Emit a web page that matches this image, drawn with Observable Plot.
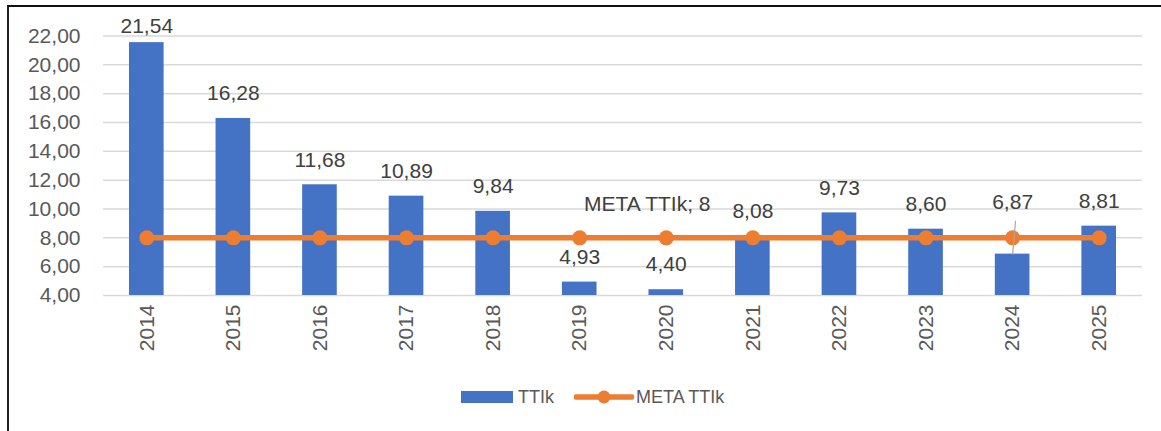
<!DOCTYPE html>
<html>
<head>
<meta charset="utf-8">
<script src="https://cdn.jsdelivr.net/npm/d3@7"></script>
<script src="https://cdn.jsdelivr.net/npm/@observablehq/plot@0.6"></script>
<style>
  html, body { margin: 0; padding: 0; background: #fff; }
  body { width: 1161px; height: 431px; position: relative; overflow: hidden; font-family: "Liberation Sans", Arial, sans-serif; }
  #frame { position: absolute; left: 7px; top: 5px; width: 1160px; height: 440px; border-top: 2px solid #111; border-left: 2px solid #222; }
  #chart { position: absolute; left: 0; top: 0; }
  #legend { position: absolute; left: 0; top: 385px; width: 1161px; height: 24px; }
  .lg { position: absolute; top: 0; font-size: 18px; line-height: 24px; color: #595959; }
</style>
</head>
<body>
<div id="frame"></div>
<div id="chart"></div>
<div id="legend"></div>
<script>
// ---- data ----
const years = ["2014","2015","2016","2017","2018","2019","2020","2021","2022","2023","2024","2025"];
const ttik = [21.54, 16.28, 11.68, 10.89, 9.84, 4.93, 4.40, 8.08, 9.73, 8.60, 6.87, 8.81];
const meta = [8, 8, 8, 8, 8, 8, 8, 8, 8, 8, 8, 8];
const yTicks = [4, 6, 8, 10, 12, 14, 16, 18, 20, 22];
const seriesBar = "TTIk";
const seriesLine = "META TTIk";
const metaLabelYear = "2020";

const yMin = yTicks[0], yMax = yTicks[yTicks.length - 1];
const data = years.map((y, i) => ({year: y, value: ttik[i], meta: meta[i]}));
const fmt = d => d.toFixed(2).replace(".", ",");

const blue = "#4472C4", orange = "#ED7D31";

// labels: most sit 25px above bar; first is squeezed, 2024 is lifted with a leader
const normal = data.filter(d => d.year !== "2014" && d.year !== "2024");
const first = data.filter(d => d.year === "2014");
const lifted = data.filter(d => d.year === "2024");
const metaLabel = data.filter(d => d.year === metaLabelYear);

const leaderShape = {
  draw(context, l) { context.moveTo(0, 0); context.lineTo(0, -l); }
};

const FS = 21;
const chart = Plot.plot({
  width: 1161,
  height: 370,
  marginLeft: 103,
  marginRight: 19,
  marginTop: 35.5,
  marginBottom: 75,
  style: {fontFamily: "'Liberation Sans', Arial, sans-serif", fontSize: FS + "px", color: "#595959", background: "transparent", overflow: "visible"},
  x: {type: "band", domain: years, paddingInner: 0.6, paddingOuter: 0.3, align: 0.5, round: false},
  y: {domain: [yMin, yMax]},
  marks: [
    Plot.gridY(yTicks, {stroke: "#d9d9d9", strokeOpacity: 1, strokeWidth: 1.5}),
    Plot.axisY(yTicks, {tickSize: 0, tickPadding: 23, tickFormat: fmt, fill: "#595959", fontSize: FS, label: null}),
    Plot.axisX({tickSize: 0, tickRotate: -90, tickPadding: 9, fill: "#595959", fontSize: FS, label: null}),
    Plot.barY(data, {x: "year", y1: yMin, y2: "value", fill: blue}),
    Plot.lineY(data, {x: "year", y: "meta", stroke: orange, strokeWidth: 5.5}),
    Plot.dot(data, {x: "year", y: "meta", r: 7.5, fill: orange, stroke: null}),
    Plot.text(normal, {x: "year", y: "value", text: d => fmt(d.value), dy: -25, fill: "#404040", fontSize: FS}),
    Plot.text(first, {x: "year", y: "value", text: d => fmt(d.value), dy: -16, fill: "#404040", fontSize: FS}),
    Plot.text(lifted, {x: "year", y: "value", text: d => fmt(d.value), dy: -52, fill: "#404040", fontSize: FS}),
    Plot.vector(lifted, {x: "year", y: "value", length: 33, rotate: 5, anchor: "start", shape: leaderShape, stroke: "#a6a6a6", strokeWidth: 1.2}),
    Plot.text(metaLabel, {x: "year", y: "meta", text: d => `${seriesLine}; ${d.meta}`, dx: -19, dy: -34, fill: "#404040", fontSize: FS})
  ]
});
document.getElementById("chart").appendChild(chart);

// legend
const lg = document.getElementById("legend");
lg.innerHTML = `
  <svg style="position:absolute;left:461px;top:0" width="52" height="24"><rect x="0" y="6" width="52" height="12" fill="${blue}"/></svg>
  <span class="lg" style="left:518px">${seriesBar}</span>
  <svg style="position:absolute;left:574px;top:0" width="60" height="24">
    <line x1="2" x2="58" y1="12" y2="12" stroke="${orange}" stroke-width="5.5" stroke-linecap="round"/>
    <circle cx="30" cy="12" r="6.5" fill="${orange}"/>
  </svg>
  <span class="lg" style="left:636px">${seriesLine}</span>`;
</script>
</body>
</html>
